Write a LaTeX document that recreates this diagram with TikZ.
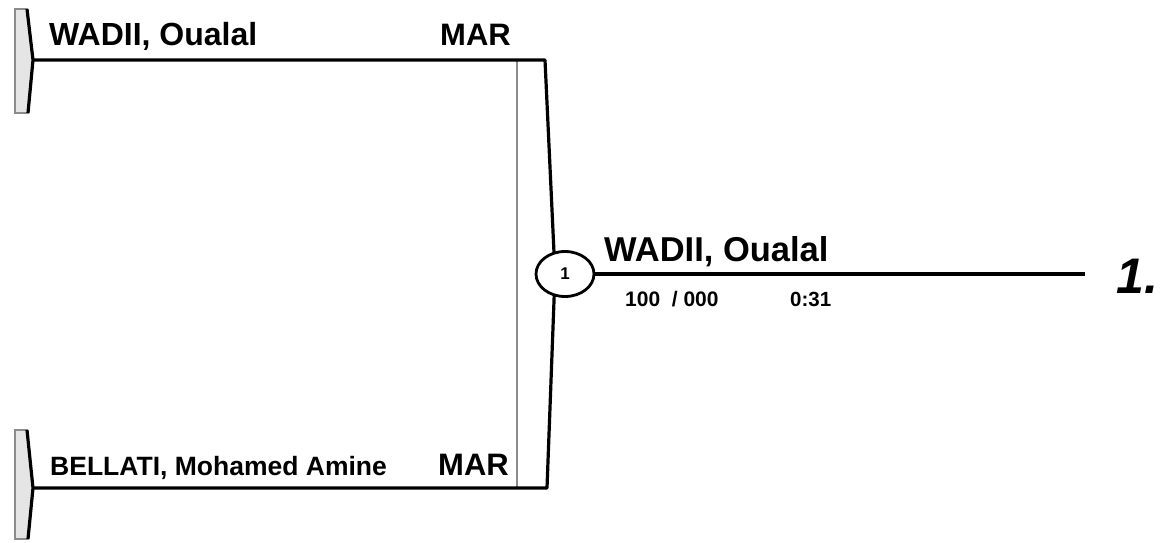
\documentclass[tikz,border=0pt]{standalone}
\usepackage{fontspec}
\setmainfont{Liberation Sans}
\usetikzlibrary{shapes.geometric}
\begin{document}
\begin{tikzpicture}[x=1pt,y=-1pt,
  lbl/.style={inner sep=0pt,anchor=base west,font=\bfseries},
  wire/.style={line width=3.2pt,black},
  inner/.style={line width=1.8pt,black!45},
  capfill/.style={fill=black!10,draw=black!45,line width=1.6pt}]
\useasboundingbox (0,0) rectangle (1163,542);
% left caps
\filldraw[capfill] (15,9) -- (27,9) -- (33,60) -- (28,113) -- (15,113) -- cycle;
\draw[wire,line join=round] (27,9) -- (33,60) -- (28,113);
\filldraw[capfill] (15,430) -- (27,430) -- (33,488) -- (28,539) -- (15,539) -- cycle;
\draw[wire,line join=round] (27,430) -- (33,488) -- (28,539);
\coordinate (a) at (33,60);
\coordinate (b) at (33,488);
\coordinate (tr) at (545,60);
\coordinate (br) at (547,488);
\coordinate (mid) at (555,274);
\coordinate (end) at (1085,274);
% bracket
\draw[inner] (517,60) -- (517,488);
\draw[wire,line join=round] (a) -- (tr) -- (mid) -- (br) -- (b);
% match circle
\node[ellipse,draw,line width=2.8pt,fill=white,minimum width=58pt,minimum height=45pt,inner sep=0pt,font=\bfseries\fontsize{17}{17}\selectfont] (m) at (565,274) {1};
\draw[wire] (m.east) -- (end);
% labels
\node[lbl,font=\bfseries\fontsize{32}{32}\selectfont] (p1) at (49,45) {WADII, Oualal};
\node[lbl,font=\bfseries\fontsize{31}{31}\selectfont] (c1) at (440,45) {MAR};
\node[lbl,font=\bfseries\fontsize{26.5}{26.5}\selectfont] (p2) at (50,475) {BELLATI, Mohamed Amine};
\node[lbl,font=\bfseries\fontsize{31}{31}\selectfont] (c2) at (438,475) {MAR};
\node[lbl,font=\bfseries\fontsize{34.5}{34.5}\selectfont] (w) at (604,261) {WADII, Oualal};
\node[lbl,font=\bfseries\fontsize{21}{21}\selectfont] (s) at (625,306) {100\ \ / 000};
\node[lbl,font=\bfseries\fontsize{20.5}{20.5}\selectfont] (t) at (790,306) {0:31};
\node[lbl,font=\bfseries\itshape\fontsize{50}{50}\selectfont] (r) at (1116,293) {1.};
\end{tikzpicture}
\end{document}
